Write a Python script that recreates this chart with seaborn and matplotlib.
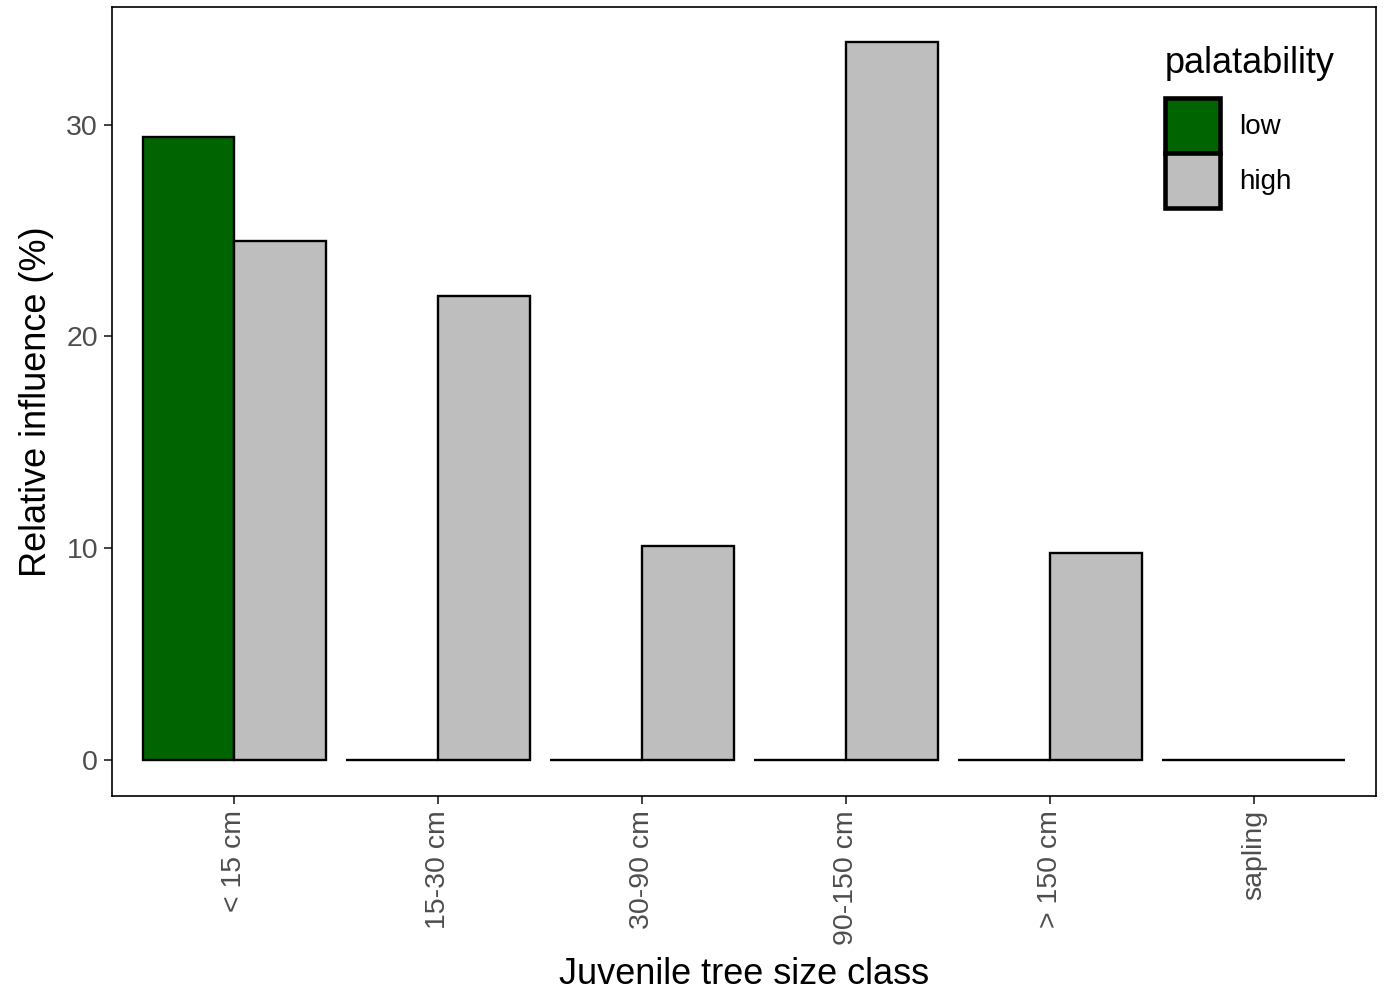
import matplotlib
matplotlib.use("Agg")
import matplotlib.pyplot as plt
import seaborn as sns
import pandas as pd
from matplotlib.patches import Patch

# Relative influence of each juvenile size class, by palatability group
size_classes = ["< 15 cm", "15-30 cm", "30-90 cm", "90-150 cm", "> 150 cm", "sapling"]
low_values = [29.4, 0.0, 0.0, 0.0, 0.0, 0.0]
high_values = [24.5, 21.9, 10.1, 33.9, 9.75, 0.0]
palatability_levels = ["low", "high"]
palatability_colors = {"low": "#006400", "high": "#BEBEBE"}

df = pd.DataFrame({
    "size_class": size_classes * 2,
    "palatability": ["low"] * len(size_classes) + ["high"] * len(size_classes),
    "influence": low_values + high_values,
})

sns.set_theme(style="white")
plt.rcParams["font.family"] = ["Liberation Sans", "DejaVu Sans"]
plt.rcParams["text.color"] = "black"

fig = plt.figure(figsize=(13.88, 9.93), dpi=100)
ax = fig.add_axes([0.0807, 0.1984, 0.9914 - 0.0807, 0.99295 - 0.1984])

sns.barplot(
    data=df, x="size_class", y="influence", hue="palatability",
    order=size_classes, hue_order=palatability_levels,
    palette=palatability_colors, width=0.9, gap=0,
    edgecolor="black", linewidth=1.7, saturation=1,
    errorbar=None, ax=ax, legend=False,
)

ax.set_xlim(-0.6, 5.6)
ax.set_ylim(-1.70, 35.55)
ax.set_yticks([0, 10, 20, 30])
ax.set_yticklabels(["0", "10", "20", "30"])

ax.set_xlabel("Juvenile tree size class", fontsize=26, color="black", labelpad=9)
ax.set_ylabel("Relative influence (%)", fontsize=26, color="black", labelpad=9)

ax.tick_params(axis="both", which="major", length=6, width=1.3, color="#333333",
               labelcolor="#4D4D4D", labelsize=20.5, bottom=True, left=True, pad=4)
ax.tick_params(axis="x", labelrotation=90)
for lbl in ax.get_xticklabels():
    lbl.set_verticalalignment("top")
    lbl.set_horizontalalignment("center")

for spine in ax.spines.values():
    spine.set_visible(True)
    spine.set_color("black")
    spine.set_linewidth(1.2)
ax.grid(False)

handles = [Patch(facecolor=palatability_colors[k], edgecolor="black", linewidth=3.3)
           for k in palatability_levels]
leg = ax.legend(
    handles=handles, labels=palatability_levels, title="palatability",
    loc="upper left", bbox_to_anchor=(1165 / 1388, 1 - 46 / 993),
    bbox_transform=fig.transFigure, frameon=False, borderpad=0,
    fontsize=20, title_fontsize=26, handlelength=1.98, handleheight=2.67,
    labelspacing=0.0, handletextpad=0.7, alignment="left", borderaxespad=0,
)
leg.get_title().set_color("black")
for t in leg.get_texts():
    t.set_color("black")
# gap between the legend title and the keys (points)
leg._legend_box.sep = 12

fig.savefig("out.png", dpi=100, facecolor="white")
